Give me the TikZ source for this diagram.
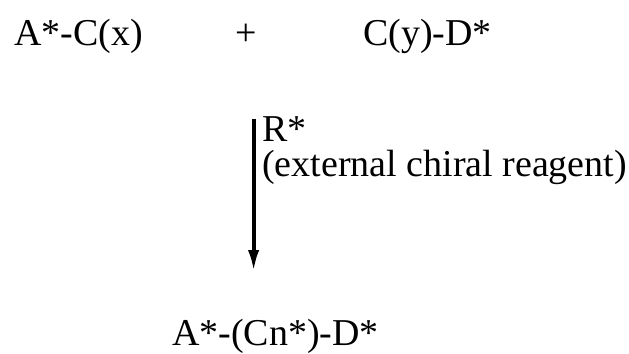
\documentclass[tikz,border=0pt]{standalone}
\usepackage{fontspec}
\setmainfont{Liberation Serif}
\usepackage{tikz}
\usetikzlibrary{calc, arrows.meta, positioning}

\begin{document}
\begin{tikzpicture}[>={Latex[length=5.5mm, width=2.8mm]},
    chem/.style={inner sep=0pt, anchor=base west, font=\fontsize{27}{31}\selectfont},
    rxnarrow/.style={->, line width=2.8pt}]
    \useasboundingbox (0,0) rectangle (15.725,8.825);
    
    % 1. Hai chất phản ứng
    \node[chem] (reactA) at (0.35,7.7) {A*-C(x)};
    \node[chem, anchor=base] (plus) at (6.16,7.7) {+};
    \node[chem] (reactB) at (9.075,7.7) {C(y)-D*};
    
    % 2. Mũi tên phản ứng và tác nhân
    \coordinate (arrtop) at (6.34,5.85);
    \coordinate (arrbot) at (6.34,2.025);
    \draw[rxnarrow] (arrtop) -- (arrbot);
    \node[chem] (reagent) at (6.55,5.3) {R*};
    \node[chem] (note) at (6.55,4.42) {(external chiral reagent)};
    
    % 3. Sản phẩm
    \node[chem] (product) at (4.3,0.2) {A*-(Cn*)-D*};
\end{tikzpicture}
\end{document}
